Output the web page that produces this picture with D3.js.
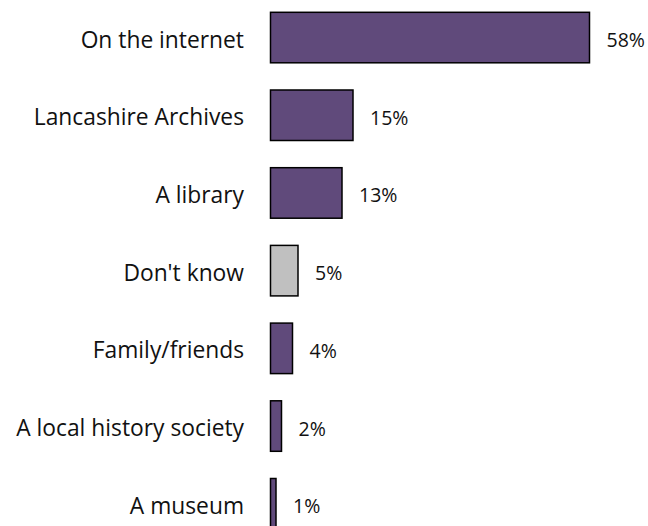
<!DOCTYPE html>
<html>
<head>
<meta charset="utf-8">
<script src="https://cdn.jsdelivr.net/npm/d3@7"></script>
<style>
  html, body { margin: 0; padding: 0; background: #ffffff; }
  svg { display: block; }
</style>
</head>
<body>
<svg id="chart" width="648" height="526"></svg>
<script>
// Where people look for local history information
const categories = [
  "On the internet",
  "Lancashire Archives",
  "A library",
  "Don't know",
  "Family/friends",
  "A local history society",
  "A museum"
];
const values = [58, 15, 13, 5, 4, 2, 1];
const valueLabels = ["58%", "15%", "13%", "5%", "4%", "2%", "1%"];
const barColors = ["#604a7b", "#604a7b", "#604a7b", "#c0c0c0", "#604a7b", "#604a7b", "#604a7b"];

const svg = d3.select("#chart");
const fontFamily = "'Open Sans', Lato, sans-serif";

const x = d3.scaleLinear().domain([0, 58]).range([270.5, 589.5]);
const y = d3.scaleBand()
  .domain(categories)
  .range([-1.3, 542.6])
  .paddingInner(0.35)
  .paddingOuter(0.175);

const rows = categories.map((c, i) => ({ cat: c, v: values[i], lab: valueLabels[i], col: barColors[i] }));

// bars
svg.append("g").selectAll("rect")
  .data(rows)
  .join("rect")
  .attr("x", x(0))
  .attr("y", d => y(d.cat))
  .attr("width", d => x(d.v) - x(0))
  .attr("height", y.bandwidth())
  .attr("fill", d => d.col)
  .attr("stroke", "#000")
  .attr("stroke-width", 1.5);

// category axis labels
svg.append("g").selectAll("text")
  .data(rows)
  .join("text")
  .attr("x", 244)
  .attr("y", d => y(d.cat) + y.bandwidth() / 2 + 10)
  .attr("text-anchor", "end")
  .attr("font-family", fontFamily)
  .attr("font-size", 22.8)
  .attr("fill", "#111")
  .text(d => d.cat);

// value labels
svg.append("g").selectAll("text")
  .data(rows)
  .join("text")
  .attr("x", d => x(d.v) + 17)
  .attr("y", d => y(d.cat) + y.bandwidth() / 2 + 9.5)
  .attr("font-family", fontFamily)
  .attr("font-size", 19.5)
  .attr("fill", "#111")
  .text(d => d.lab);
</script>
</body>
</html>
